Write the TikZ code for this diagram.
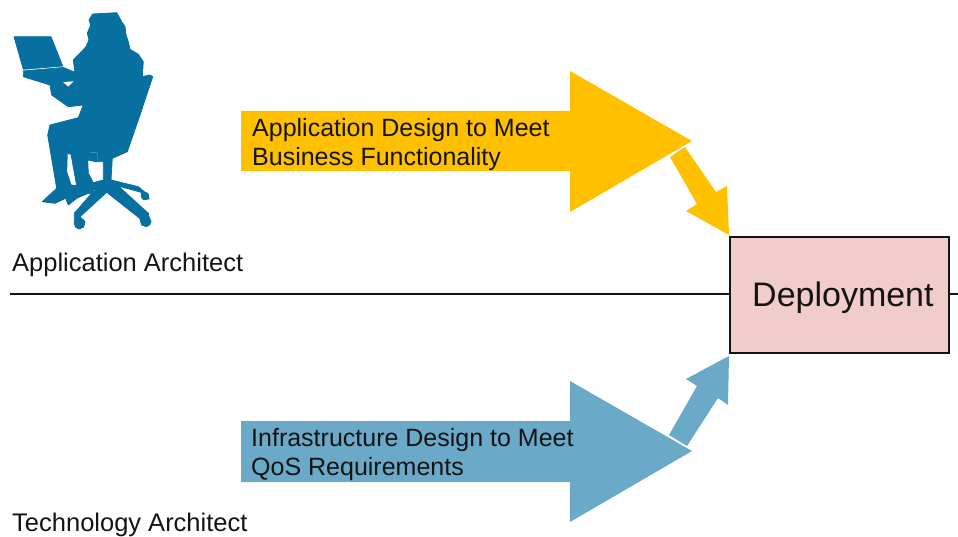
\documentclass[tikz,border=0pt]{standalone}
\usepackage{fontspec}
\setmainfont{Liberation Sans}
\definecolor{amberc}{HTML}{FFC000}
\definecolor{bluec}{HTML}{6AA9C8}
\definecolor{figc}{HTML}{0870A0}
\definecolor{pinkc}{HTML}{F0CCCC}
\definecolor{inkc}{HTML}{141414}
\tikzset{
  lbl/.style={inner sep=0pt,anchor=base west,text=inkc,font=\fontsize{25.5}{30}\selectfont},
  arrowlbl/.style={inner sep=0pt,anchor=west,align=left,text=inkc,font=\fontsize{25}{29}\selectfont},
  deploy/.style={draw=inkc,line width=2.7pt,fill=pinkc,minimum width=219pt,minimum height=116pt,inner sep=0pt},
  deploytext/.style={inner sep=0pt,anchor=base west,text=inkc,font=\fontsize{34}{40}\selectfont},
  lane/.style={draw=inkc,line width=2.6pt},
  fig/.style={fill=figc,draw=figc,line width=.8pt,line join=round}
}
\begin{document}
\begin{tikzpicture}[x=1pt,y=-1pt]
\useasboundingbox (0,0) rectangle (958,537);
\clip (0,0) rectangle (958,537);
% silhouette
\path[fig,even odd rule]
 (92.7,14)--(116.7,12.7)--(121.7,21.7)--(125,26.7)--(126,35)--(128.3,41.7)--(130,49.3)--(138.3,54.3)--(143.3,61.7)--(142.3,76.7)
 --(150,75)--(152.7,76.7)--(140,115)--(127.3,151.7)--(112.3,158.3)--(111,180)--(138.3,186.7)--(148.3,195)--(149,199)--(143.3,199.3)--(141,192.3)--(118.3,186)
 --(148.3,213.3)--(150,221.7)--(146.7,226.7)--(141.7,225)--(139.7,218.3)--(106.7,192.3)--(80,216.7)--(85,221.7)--(83.3,226.7)--(78.3,229)--(74.3,223.3)--(74.3,213.3)
 --(91.7,193.3)--(88.3,193.3)--(76.7,198.3)--(68.3,205)--(65.7,198.3)--(55,203.3)--(42.3,201.7)--(56.7,188.3)--(47.7,135)--(50,125)--(78.3,117.7)--(83.3,105)
 --(68.3,106.7)--(51.7,95)--(50,85)--(23.3,76.7)--(23.3,71)--(63.3,67.5)--(75,72.3)--(73.3,60)--(80,53.3)--(86,46.7)--(89,40)--(87.3,33.3)--(90.7,25)--(89,20)--cycle
 (61.7,81.7)--(75,80.7)--(68.3,87.3)--cycle
 (67.3,153.3)--(71,154.3)--(76.7,185.7)--(71,185)--(66.7,171.7)--cycle
 (87.7,160)--(96,161.7)--(103.3,161.7)--(103.3,180)--(93.3,182.7)--(88.3,173.3)--cycle
 (90,152.3)--(97.3,152.3)--(97.3,160.7)--(96.3,160.7)--(96.3,153.5)--(90,153.5)--cycle
 (93.3,190)--(98.3,187.7)--(93.3,192.3)--cycle;
\path[fig] (14,36.7)--(51,36.7)--(62.7,66)--(23.3,69.3)--cycle;
\path[fig] (146,221.5) circle (5);
\path[fig] (79.5,223.5) circle (5.3);
\path[fig] (145,196) circle (3.8);
% block arrows
\fill[amberc] (241,111)--(570,111)--(570,71)--(692,141)--(570,212)--(570,171)--(241,171)--cycle;
\fill[bluec] (241,421)--(570,421)--(570,381)--(692,451)--(570,522)--(570,482)--(241,482)--cycle;
\fill[amberc] (670,157)--(685,147)--(716,192)--(727,186)--(729,235)--(686,211)--(697,204)--cycle;
\fill[bluec] (669,435)--(687,446)--(718,398)--(728,405)--(729,356)--(686,379)--(697,386)--cycle;
% deployment and lane
\node[deploy] (dep) at (839.5,295) {};
\node[deploytext] (deptext) at (752,306) {Deployment};
\coordinate (laneL) at (10,294);
\coordinate (laneR) at (958,294);
\draw[lane] (laneL) -- (laneL -| dep.west);
\draw[lane] (laneR -| dep.east) -- (laneR);
% labels
\node[lbl] (a1) at (12,272) {Application Architect};
\node[lbl] (a2) at (12,531) {Technology Architect};
\node[arrowlbl] (t1) at (252,145) {Application Design to Meet\\Business Functionality};
\node[arrowlbl] (t2) at (251,455) {Infrastructure Design to Meet\\QoS Requirements};
\end{tikzpicture}
\end{document}
